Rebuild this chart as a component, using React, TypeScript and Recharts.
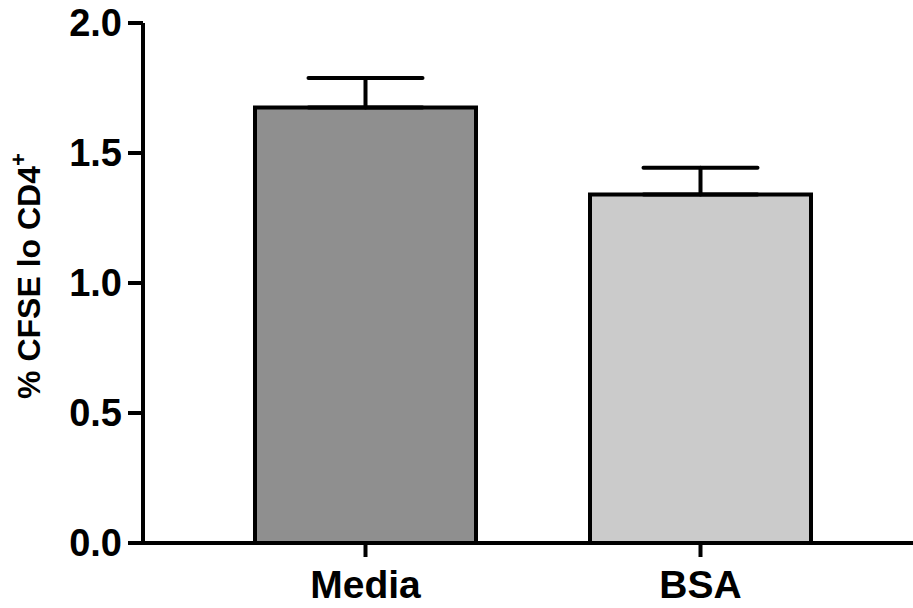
import { BarChart, Bar, XAxis, YAxis, ErrorBar, Cell } from 'recharts';

const groups = ['Media', 'BSA'];
const means = [1.675, 1.34];
const sems = [0.113, 0.103];
const fills = ['#8f8f8f', '#cbcbcb'];
const yTicks = [0, 0.5, 1.0, 1.5, 2.0];

const data = groups.map((g, i) => ({ group: g, value: means[i], err: [0, sems[i]] }));

const font = '"Liberation Sans", Arial, Helvetica, sans-serif';

function YLabel(props: any) {
  const { viewBox } = props;
  const x = viewBox.x + 40;
  const y = viewBox.y + viewBox.height / 2 - 7;
  return (
    <text
      x={x}
      y={y}
      transform={`rotate(-90, ${x}, ${y})`}
      textAnchor="middle"
      fontFamily={font}
      fontWeight="bold"
      fontSize={32}
      fill="#000"
    >
      % CFSE lo CD4
      <tspan fontSize={22} dy={-14}>+</tspan>
    </text>
  );
}

export default function App() {
  return (
    <div style={{ position: 'absolute', left: 0, top: 0, background: '#fff' }}>
      <BarChart
        width={913}
        height={608}
        data={data}
        margin={{ top: 23, right: 0, bottom: 0, left: 0 }}
      >
        <XAxis
          dataKey="group"
          height={65}
          padding={{ left: 55, right: 45 }}
          axisLine={{ stroke: '#000', strokeWidth: 4 }}
          tickLine={{ stroke: '#000', strokeWidth: 4 }}
          tickSize={14}
          tickMargin={13}
          tick={{ fill: '#000', fontSize: 39, fontWeight: 'bold', fontFamily: font }}
        />
        <YAxis
          width={143}
          domain={[0, 2]}
          ticks={yTicks}
          interval={0}
          tickFormatter={(v: number) => v.toFixed(1)}
          axisLine={{ stroke: '#000', strokeWidth: 4 }}
          tickLine={{ stroke: '#000', strokeWidth: 4 }}
          tickSize={15}
          tickMargin={6}
          tick={{ fill: '#000', fontSize: 38, fontWeight: 'bold', fontFamily: font }}
          label={{ content: YLabel }}
        />
        <Bar
          dataKey="value"
          barSize={221}
          stroke="#000"
          strokeWidth={4}
          isAnimationActive={false}
        >
          {data.map((d, i) => (
            <Cell key={d.group} fill={fills[i]} />
          ))}
          <ErrorBar
            dataKey="err"
            direction="y"
            width={57}
            stroke="#000"
            strokeWidth={4}
            strokeLinecap="round"
            isAnimationActive={false}
          />
        </Bar>
      </BarChart>
    </div>
  );
}
